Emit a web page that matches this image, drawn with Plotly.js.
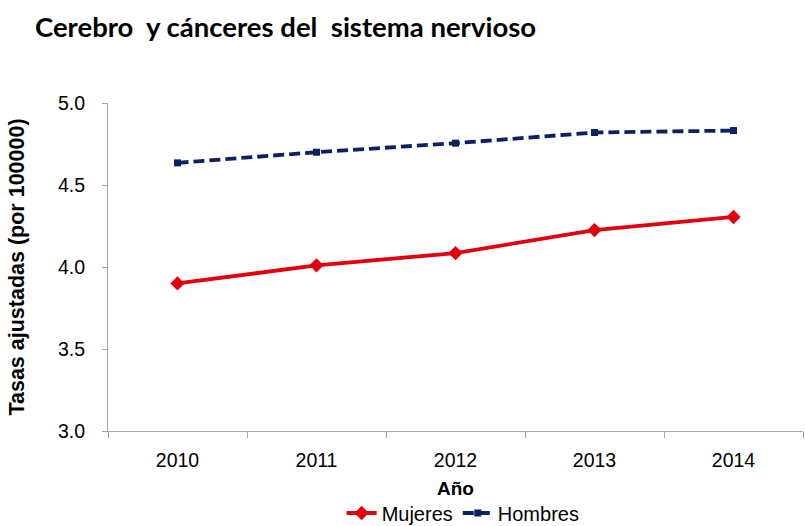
<!DOCTYPE html>
<html>
<head>
<meta charset="utf-8">
<script src="https://cdn.plot.ly/plotly-3.0.1.min.js"></script>
<style>html,body{margin:0;padding:0;background:#fff;}#chart{width:805px;height:526px;}</style>
</head>
<body>
<div id="chart"></div>
<script>
var years = ["2010", "2011", "2012", "2013", "2014"];
var mujeres = [3.90, 4.01, 4.085, 4.225, 4.305];
var hombres = [4.635, 4.70, 4.755, 4.82, 4.832];
var xTitle = "Año";
var yTitle = "Tasas ajustadas (por 100000)";

var FONT = "Liberation Sans, Arial, sans-serif";

var traces = [
  {
    x: years, y: mujeres, name: "Mujeres", type: "scatter", mode: "lines+markers",
    line: {color: "#E3000F", width: 3.8},
    marker: {symbol: "diamond", size: 11, color: "#E3000F"}
  },
  {
    x: years, y: hombres, name: "Hombres", type: "scatter", mode: "lines+markers",
    line: {color: "#0B2160", width: 3.8, dash: "11px,5px"},
    marker: {symbol: "square", size: 7, color: "#0B2160"}
  }
];

var layout = {
  width: 805, height: 526,
  margin: {l: 108, r: 2, t: 103, b: 95, autoexpand: false},
  paper_bgcolor: "#fff", plot_bgcolor: "#fff",
  showlegend: true,
  title: {
    text: "Cerebro  y cánceres del  sistema nervioso",
    font: {family: "Lato, 'Open Sans', sans-serif", size: 27.5, color: "#000", weight: "bold"},
    xref: "container", yref: "container", x: 35/805, y: 1 - 27/526,
    xanchor: "left", yanchor: "middle"
  },
  xaxis: {
    type: "category", range: [-0.5, 4.5],
    showline: true, linecolor: "#A6A6A6", linewidth: 1,
    ticks: "outside", tickson: "boundaries", ticklen: 6, tickcolor: "#A6A6A6",
    showgrid: false, zeroline: false,
    tickfont: {family: FONT, size: 19.5, color: "#000"},
    ticklabelstandoff: 12
  },
  yaxis: {
    range: [3, 5], dtick: 0.5, tickformat: ".1f",
    showline: true, linecolor: "#A6A6A6", linewidth: 1,
    ticks: "outside", ticklen: 5, tickcolor: "#A6A6A6",
    showgrid: false, zeroline: false,
    tickfont: {family: FONT, size: 19.5, color: "#000"},
    ticklabelstandoff: 13,
    title: {text: "<b>" + yTitle + "</b>", font: {family: FONT, size: 21.5, color: "#000"}, standoff: 27}
  },
  annotations: [
    {
      text: "<b>" + xTitle + "</b>", showarrow: false,
      xref: "paper", x: 0.5, xanchor: "center",
      yref: "paper", y: -(488 - 431) / 328, yanchor: "middle",
      font: {family: FONT, size: 19, color: "#000"}
    }
  ],
  legend: {
    orientation: "h", xref: "paper", x: 0.511, xanchor: "center",
    yref: "container", y: 1 - 513/526, yanchor: "middle",
    font: {family: FONT, size: 20, color: "#000"},
    itemwidth: 30, tracegroupgap: 0
  }
};

Plotly.newPlot("chart", traces, layout, {displayModeBar: false, staticPlot: true});
</script>
</body>
</html>
